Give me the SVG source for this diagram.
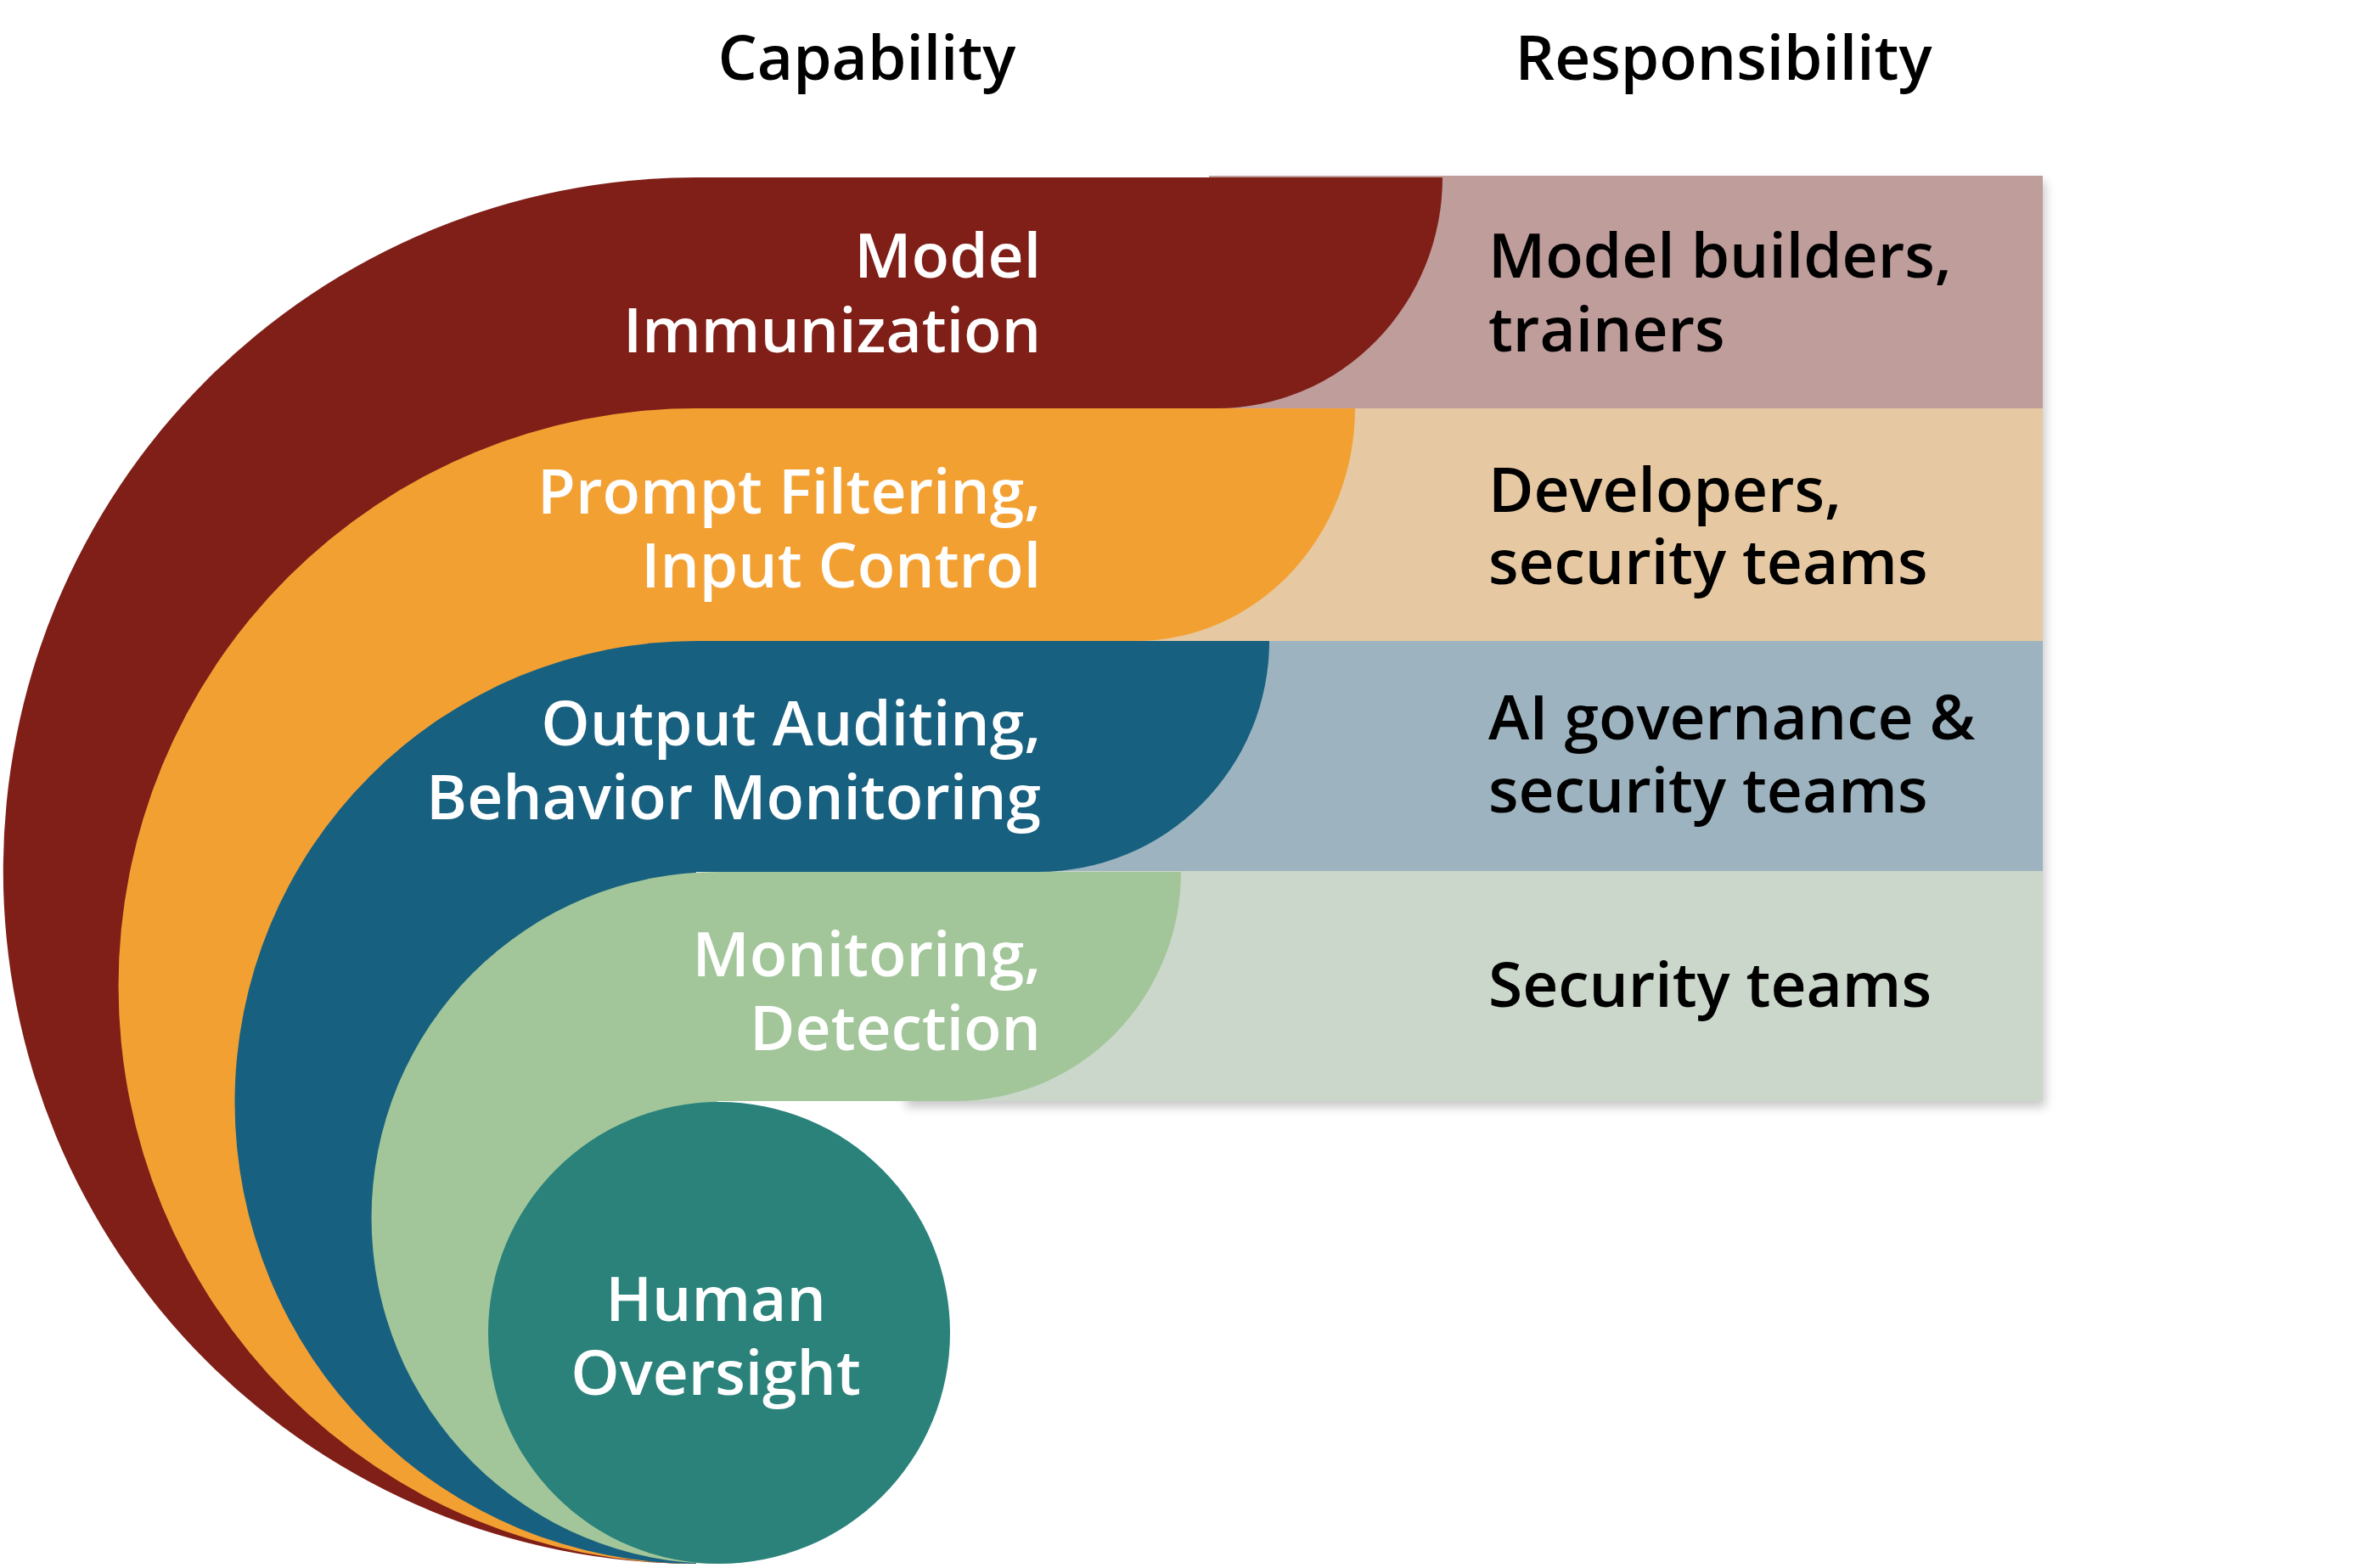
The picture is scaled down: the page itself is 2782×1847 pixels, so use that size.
<svg xmlns="http://www.w3.org/2000/svg" width="2782" height="1847" viewBox="0 0 2782 1847">
<style>
.t{font-family:"Open Sans","Noto Sans","Liberation Sans",sans-serif;font-weight:600;font-size:73px}
.w{fill:#ffffff;text-anchor:end}
.b{fill:#000000}
.c{fill:#ffffff;text-anchor:middle}
.h{fill:#000000;text-anchor:middle}
</style>
<defs>
<filter id="sh" x="-5%" y="-5%" width="115%" height="120%">
<feDropShadow dx="3" dy="7" stdDeviation="6" flood-color="#000" flood-opacity="0.22"/>
</filter>
</defs>
<rect width="2782" height="1847" fill="#ffffff"/>
<g id="titles">
<text class="t h" x="1021" y="94">Capability</text>
<text class="t h" x="2030" y="94">Responsibility</text>
</g>
<g id="responsibility-bands" filter="url(#sh)">
<rect x="1424" y="207" width="982" height="275" fill="#BF9D9B"/>
<rect x="1300" y="481" width="1106" height="275" fill="#E6C9A2"/>
<rect x="1180" y="755" width="1226" height="272" fill="#9DB4C0"/>
<rect x="1064" y="1026" width="1342" height="271" fill="#CBD7CA"/>
</g>
<g id="node-model-immunization">
<path d="M 820 209 H 1699 A 266 272 0 0 1 1433 481 H 820 V 1842 A 816.5 816.5 0 0 1 820 209 Z" fill="#7F1F18"/>
<text class="t w" x="1226" y="327">Model</text>
<text class="t w" x="1226" y="415">Immunization</text>
<text class="t b" x="1753" y="327">Model builders,</text>
<text class="t b" x="1753" y="414">trainers</text>
</g>
<g id="node-prompt-filtering">
<path d="M 820 481 H 1596 A 258 274 0 0 1 1338 755 H 820 V 1842 A 680.5 680.5 0 0 1 820 481 Z" fill="#F3A033"/>
<text class="t w" x="1226" y="605">Prompt Filtering,</text>
<text class="t w" x="1226" y="692">Input Control</text>
<text class="t b" x="1753" y="603">Developers,</text>
<text class="t b" x="1753" y="688">security teams</text>
</g>
<g id="node-output-auditing">
<path d="M 820 755 H 1495 A 272 272 0 0 1 1223 1027 H 820 V 1842 A 543.5 543.5 0 0 1 820 755 Z" fill="#18607F"/>
<text class="t w" x="1226" y="878">Output Auditing,</text>
<text class="t w" x="1226" y="965">Behavior Monitoring</text>
<text class="t b" x="1753" y="871">AI governance &amp;</text>
<text class="t b" x="1753" y="957">security teams</text>
</g>
<g id="node-monitoring-detection">
<path d="M 845 1027 H 1391 A 266 270 0 0 1 1125 1297 H 845 V 1842 A 407.5 407.5 0 0 1 845 1027 Z" fill="#A2C69A"/>
<text class="t w" x="1226" y="1150">Monitoring,</text>
<text class="t w" x="1226" y="1237">Detection</text>
<text class="t b" x="1753" y="1186">Security teams</text>
</g>
<g id="node-human-oversight">
<circle cx="847" cy="1570" r="272" fill="#2A827B"/>
<text class="t c" x="843" y="1556">Human</text>
<text class="t c" x="843" y="1643">Oversight</text>
</g>
<g id="connectors"/>
</svg>
